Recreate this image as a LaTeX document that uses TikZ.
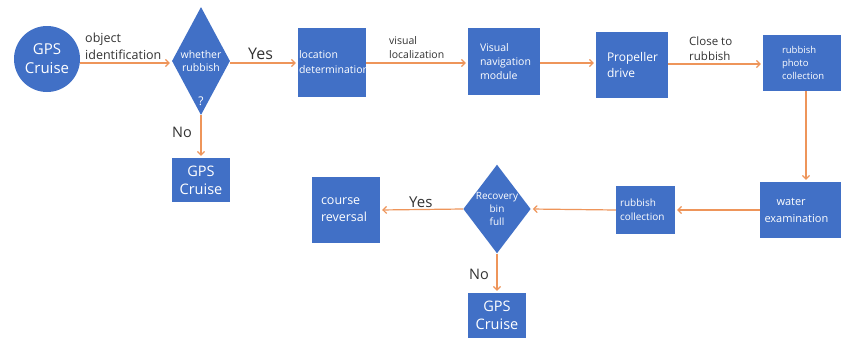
\documentclass[tikz,border=0pt]{standalone}
\usepackage{fontspec}
\setmainfont{Open Sans}
\usepackage{xcolor}
\usepackage{tikz}
\usetikzlibrary{arrows.meta, positioning}
\usetikzlibrary{shapes.geometric}

\definecolor{boxblue}{HTML}{4170C6}
\definecolor{flowline}{HTML}{EE955A}
\definecolor{labgray}{HTML}{333333}

\tikzset{
  block/.style={rectangle, fill=boxblue, text=white, inner sep=0pt, align=left},
  decide/.style={diamond, fill=boxblue, text=white, inner sep=0pt, align=center},
  flow/.style={draw=flowline, line width=1.2pt, shorten >=2pt, -{Straight Barb[length=3.5pt,width=7pt]}},
  lab/.style={text=labgray, align=left, inner sep=0pt}
}

\begin{document}
\begin{tikzpicture}[x=1pt,y=-1pt]
            \clip (0,0) rectangle (841,340);
            \fill[white] (0,0) rectangle (841,340);
            % top row
            \node[circle, fill=boxblue, text=white, minimum size=66pt, inner sep=0pt, align=center, font=\fontsize{15}{19}\selectfont](start) at (47,59) {GPS\\Cruise};
            \node[decide, minimum width=58pt, minimum height=108pt, shape aspect=0.54, font=\fontsize{10.5}{13}\selectfont](rub) at (201,61) {whether\\rubbish};
            \node[text=white, font=\fontsize{12}{14}\selectfont, inner sep=0pt](q) at (201,101) {?};
            \node[block, minimum width=58pt, minimum height=44pt, align=center, font=\fontsize{14.5}{18}\selectfont](gpsa) at (201,180) {GPS\\Cruise};
            \node[block, minimum width=68pt, minimum height=69pt, text width=66pt, font=\fontsize{10.5}{15}\selectfont](loc) at (332,62.5) {location\\determination};
            \node[block, minimum width=72pt, minimum height=67pt, text width=48pt, font=\fontsize{10.5}{14}\selectfont](nav) at (504,61.5) {Visual\\navigation\\module};
            \node[block, minimum width=72pt, minimum height=66pt, text width=50pt, font=\fontsize{12}{16}\selectfont](prop) at (632,65) {Propeller\\drive};
            \node[block, minimum width=86pt, minimum height=56pt, text width=48pt, font=\fontsize{9.5}{13}\selectfont](photo) at (806,63) {rubbish\\photo\\collection};
            % bottom row
            \node[block, minimum width=89pt, minimum height=56pt, text width=80pt, font=\fontsize{11}{17}\selectfont](water) at (804.5,210) {\hspace*{12pt}water\\examination};
            \node[block, minimum width=59pt, minimum height=48pt, text width=51pt, font=\fontsize{10}{14}\selectfont](coll) at (645.5,210) {rubbish\\collection};
            \node[decide, minimum width=67pt, minimum height=88pt, shape aspect=0.76, font=\fontsize{10}{13}\selectfont](bin) at (497,209) {Recovery\\bin\\full};
            \node[block, minimum width=68pt, minimum height=66pt, text width=50pt, font=\fontsize{12.5}{17}\selectfont](rev) at (346,210) {course\\reversal};
            \node[block, minimum width=58pt, minimum height=45pt, align=center, font=\fontsize{14.5}{18}\selectfont](gpsb) at (497,315.5) {GPS\\Cruise};
            % connectors
            \draw[flow] (start.east |- 0,63) -- (rub.west |- 0,63);
            \draw[flow] (rub.east |- 0,63) -- (loc.west |- 0,63);
            \draw[flow] (rub.south) -- (gpsa.north);
            \draw[flow] (loc.east |- 0,63) -- (nav.west |- 0,63);
            \draw[flow] (nav.east |- 0,63) -- (prop.west |- 0,63);
            \draw[flow] (prop.east |- 0,64) -- (photo.west |- 0,64);
            \draw[flow] (photo.south) -- (photo.south |- water.north);
            \draw[flow] (water.west) -- (coll.east);
            \draw[flow] (coll.west) -- (bin.east);
            \draw[flow] (bin.west) -- (rev.east);
            \draw[flow] (bin.south) -- (gpsb.north);
            % labels
            \node[lab, anchor=south west, font=\fontsize{12.5}{17}\selectfont](objid) at (85,60) {object\\identification};
            \node[lab, anchor=south west, font=\fontsize{16}{18}\selectfont](yesa) at (248,60) {Yes};
            \node[lab, anchor=west, font=\fontsize{14.5}{16}\selectfont](noa) at (172,132) {No};
            \node[lab, anchor=south west, font=\fontsize{10.5}{14}\selectfont](vloc) at (389,59) {visual\\localization};
            \node[lab, anchor=south west, font=\fontsize{11.5}{15}\selectfont](close) at (689,61) {Close to\\rubbish};
            \node[lab, anchor=south west, font=\fontsize{15}{18}\selectfont](yesb) at (409,208) {Yes};
            \node[lab, anchor=west, font=\fontsize{14.5}{16}\selectfont](nob) at (469,274) {No};
        \end{tikzpicture}
\end{document}
